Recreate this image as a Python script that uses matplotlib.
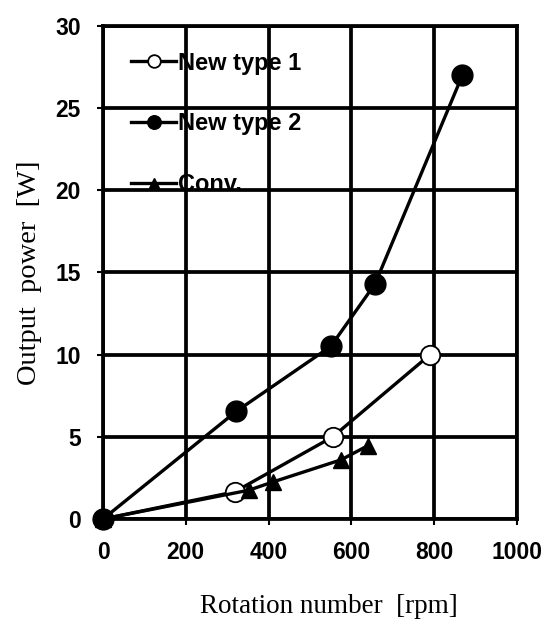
import matplotlib.pyplot as plt

# data
rpm_new1 = [0, 318, 555, 790]
power_new1 = [0, 1.65, 5.0, 10.0]

rpm_new2 = [0, 322, 550, 657, 868]
power_new2 = [0, 6.55, 10.5, 14.3, 27.0]

rpm_conv = [0, 352, 410, 575, 639]
power_conv = [0, 1.75, 2.25, 3.6, 4.45]

x_ticks = [0, 200, 400, 600, 800, 1000]
y_ticks = [0, 5, 10, 15, 20, 25, 30]

fig = plt.figure(figsize=(5.52, 6.29), dpi=100)
ax = fig.add_axes([0.1866, 0.1749, 0.7500, 0.7838])

ax.plot(rpm_new1, power_new1, color="black", lw=2.4, marker="o", ms=14,
        mfc="white", mec="black", mew=1.3, label="New type 1", zorder=4,
        clip_on=False)
ax.plot(rpm_conv, power_conv, color="black", lw=2.4, marker="^", ms=12,
        mfc="black", mec="black", label="Conv.", zorder=4, clip_on=False)
ax.plot(rpm_new2, power_new2, color="black", lw=2.4, marker="o", ms=15,
        mfc="black", mec="black", label="New type 2", zorder=5, clip_on=False)

ax.set_xlim(0, 1000)
ax.set_ylim(0, 30)
ax.set_xticks(x_ticks)
ax.set_yticks(y_ticks)

ax.set_axisbelow(False)
ax.grid(True, color="black", lw=2.7, zorder=2.5)
for sp in ax.spines.values():
    sp.set_linewidth(2.7)
    sp.set_zorder(2.6)

ax.tick_params(direction="out", length=4, width=1.5, labelsize=16.5)
ax.tick_params(axis="x", pad=12)
ax.tick_params(axis="y", pad=12)
for lab in ax.get_xticklabels() + ax.get_yticklabels():
    lab.set_fontweight("bold")
    lab.set_family("Liberation Sans")

ax.set_xlabel("Rotation number  [rpm]", family="Liberation Serif", fontsize=19.5)
ax.xaxis.set_label_coords(0.546, -0.152)
ax.set_ylabel("Output  power  [W]", family="Liberation Serif", fontsize=20.5)
ax.yaxis.set_label_coords(-0.148, 0.499)

# legend order as in the picture
handles, labels = ax.get_legend_handles_labels()
order = [labels.index(n) for n in ["New type 1", "New type 2", "Conv."]]
leg = ax.legend([handles[i] for i in order], [labels[i] for i in order],
                loc="upper left", bbox_to_anchor=(0.068, 0.948), frameon=False,
                borderpad=0, borderaxespad=0, handlelength=1.9,
                handletextpad=0.1, labelspacing=1.6, markerscale=0.65,
                prop={"family": "Liberation Sans", "weight": "bold", "size": 17})
leg.set_zorder(2)

fig.savefig("out.png", dpi=100)
